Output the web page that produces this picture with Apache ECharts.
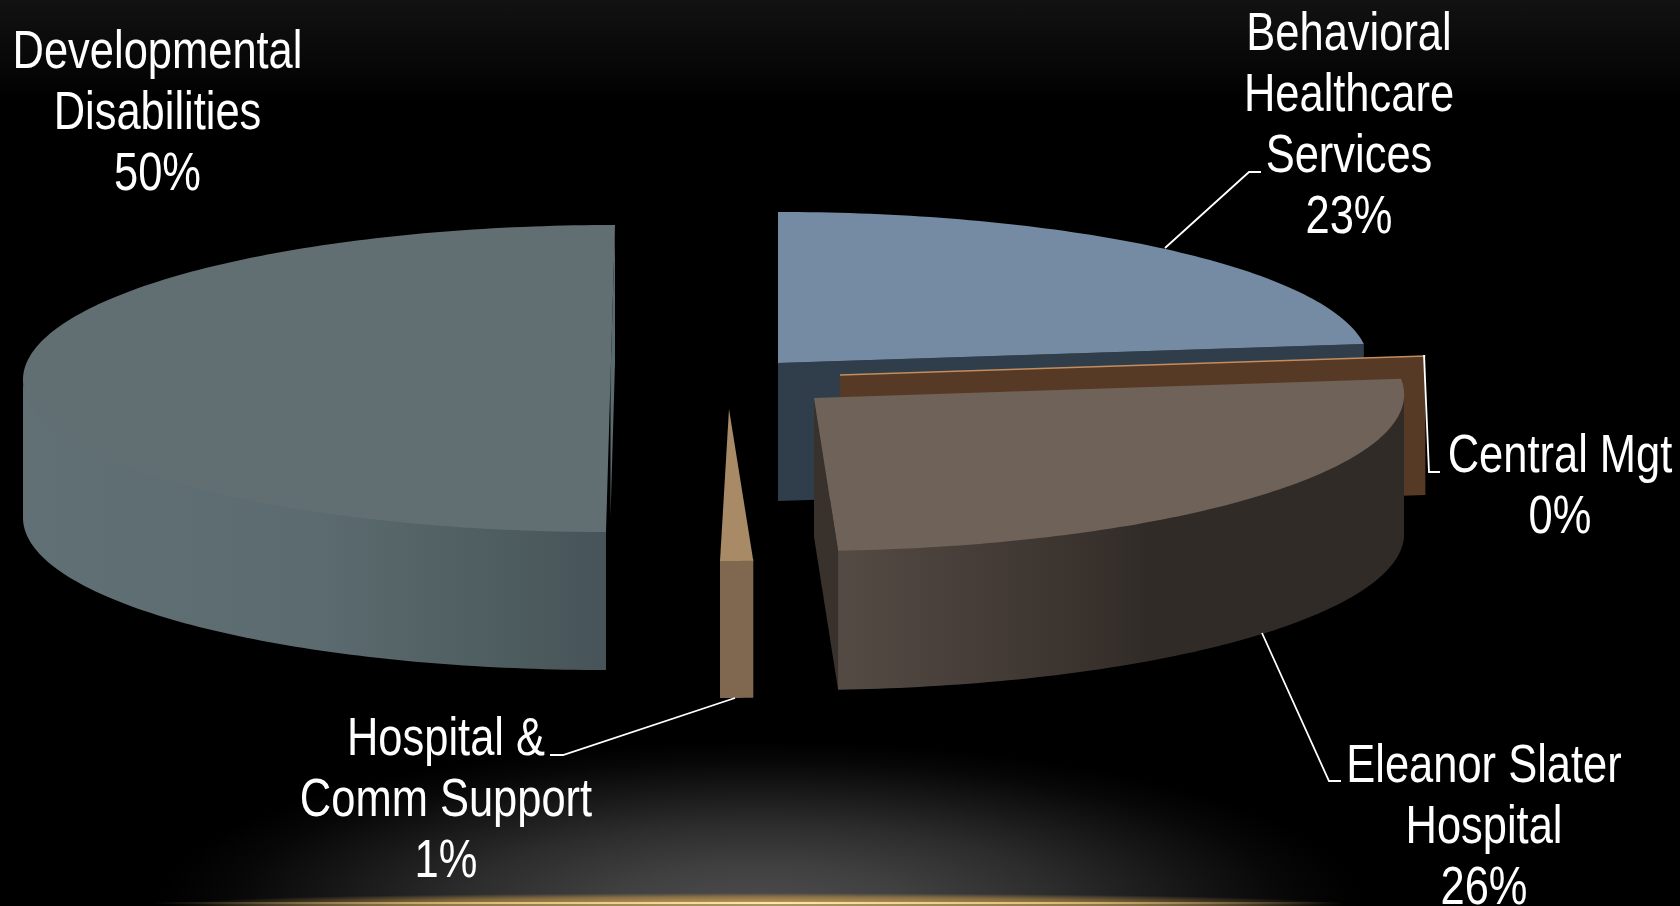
<!DOCTYPE html>
<html>
<head>
<meta charset="utf-8">
<title>Budget share by program</title>
<script src="https://cdn.jsdelivr.net/npm/echarts@6/dist/echarts.min.js"></script>
<style>
  html, body { margin: 0; padding: 0; width: 100%; height: 100%; background: #000; overflow: hidden; }
  #stage {
    position: absolute; left: 0; top: 0; width: 1680px; height: 906px;
    background:
      linear-gradient(90deg, rgba(150,128,78,0) 10%, rgba(150,128,78,.9) 30%, rgba(170,150,100,1) 46%, rgba(150,128,78,.9) 62%, rgba(150,128,78,0) 80%) left 0 bottom 0 / 100% 2px no-repeat,
      linear-gradient(90deg, rgba(232,200,120,0) 9%, rgba(232,200,120,.9) 30%, rgba(250,232,170,1) 46%, rgba(232,200,120,.9) 62%, rgba(232,200,120,0) 80%) left 0 bottom 2px / 100% 2px no-repeat,
      radial-gradient(ellipse 570px 10px at 760px 903px, rgba(215,170,90,.8) 0%, rgba(195,150,75,.55) 60%, rgba(180,140,70,0) 100%),
      radial-gradient(ellipse 600px 165px at 760px 906px, #4c4c4c 0%, #404040 25%, #2c2c2c 50%, #161616 72%, #070707 88%, rgba(0,0,0,0) 100%),
      linear-gradient(180deg, #121212 0, #000 105px);
  }
  #chart { position: absolute; left: 0; top: 0; width: 1680px; height: 906px; }
</style>
</head>
<body>
<div id="stage"><div id="chart"></div></div>
<script>
// Shares of the budget, clockwise from twelve o'clock.
const categories = [
  'Behavioral\nHealthcare\nServices',
  'Central Mgt',
  'Eleanor Slater\nHospital',
  'Hospital &\nComm Support',
  'Developmental\nDisabilities'
];
const shareValues = [23, 0, 26, 1, 50];

// Where each exploded wedge sits and how it is tinted.
const wedgeLayouts = [
  { cx: 778, cy: 363, rx: 590.5, ry: 151, lean: 0, depth: 138, paint: 20,
    top: '#748ba3', cut: '#2f3e4a', wall: null },
  { cx: 840, cy: 375, rx: 590, ry: 151, lean: 0, depth: 139, paint: 30,
    top: '#c48d5e', cut: '#573a25', wall: null },
  { cx: 814, cy: 398, rx: 590, ry: 153, lean: 13, depth: 139, paint: 40,
    top: '#6f6258', cut: '#38312c',
    wall: [[0, '#554b45'], [0.35, '#3f3732'], [0.55, '#312b27'], [1, '#302b27']] },
  { cx: 729, cy: 409, rx: 530, ry: 152, lean: 9, depth: 137, paint: 15,
    top: '#a98a66', cut: null,
    wall: [[0, '#806850'], [1, '#806850']] },
  { cx: 610.5, cy: 378.5, rx: 587.5, ry: 153.5, lean: 4.5, depth: 138, paint: 10,
    top: '#616f73', cut: '#5a6b6f',
    wall: [[0, '#607074'], [0.5, '#5b6b6f'], [0.8, '#4f5e60'], [1, '#465459']] }
];

// Label centres and their leader lines.
const labelLayouts = [
  { x: 1349, y: 127, leader: [[1165, 248], [1249, 172], [1261, 172]] },
  { x: 1560, y: 488, leader: [[1424, 355], [1429, 472], [1440, 472]] },
  { x: 1484, y: 828, leader: [[1262, 633], [1329, 781], [1341, 781]] },
  { x: 446, y: 801, leader: [[735, 698], [563, 755], [550, 755]] },
  { x: 157.5, y: 114, leader: null }
];
const labelWidthScale = 0.82;

const total = shareValues.reduce((a, b) => a + b, 0);
const toAngle = share => (share / total) * 360;

function rimPoint(w, deg, drop) {
  const t = deg * Math.PI / 180;
  return [
    w.cx + w.rx * Math.sin(t) + w.lean * Math.cos(t),
    w.cy - w.ry * Math.cos(t) + drop
  ];
}

function arcPoints(w, from, to, drop) {
  const pts = [];
  const steps = Math.max(1, Math.ceil(Math.abs(to - from)));
  for (let i = 0; i <= steps; i++) {
    pts.push(rimPoint(w, from + (to - from) * i / steps, drop));
  }
  return pts;
}

function renderWedge(params, api) {
  const i = params.dataIndex;
  const w = wedgeLayouts[i];
  const label = labelLayouts[i];
  const value = api.value(0);
  let before = 0;
  for (let k = 0; k < i; k++) before += shareValues[k];
  const start = toAngle(before);
  const end = start + toAngle(value);
  const children = [];

  // Cut face along the radius that looks toward the viewer.
  if (w.cut) {
    const rim = rimPoint(w, end, 0);
    const rimLow = rimPoint(w, end, w.depth);
    children.push({
      type: 'polygon', z2: w.paint,
      shape: { points: [[w.cx, w.cy], rim, rimLow, [w.cx, w.cy + w.depth]] },
      style: { fill: w.cut }
    });
  }

  // Outer rim wall, tucked slightly under the top face so no seam shows.
  const wallFrom = Math.max(start, 90);
  const wallTo = Math.min(end, 270);
  if (w.wall && wallTo > wallFrom) {
    const pts = arcPoints(w, wallFrom, wallTo, -1.5)
      .concat(arcPoints(w, wallTo, wallFrom, w.depth));
    children.push({
      type: 'polygon', z2: w.paint + 1,
      shape: { points: pts },
      style: {
        fill: new echarts.graphic.LinearGradient(0, 0, 1, 0,
          w.wall.map(s => ({ offset: s[0], color: s[1] })))
      }
    });
  }

  // Top face; a zero share collapses to a bright hairline.
  const face = [[w.cx, w.cy]].concat(arcPoints(w, start, end, 0));
  children.push({
    type: 'polygon', z2: w.paint + 2,
    shape: { points: face },
    style: value > 0
      ? { fill: w.top }
      : { fill: w.top, stroke: w.top, lineWidth: 1.6 }
  });

  if (label.leader) {
    children.push({
      type: 'polyline', z2: 90,
      shape: { points: label.leader },
      style: { stroke: '#ffffff', lineWidth: 1.8, fill: null }
    });
  }
  children.push({
    type: 'text', z2: 100,
    x: label.x, y: label.y, scaleX: labelWidthScale,
    style: {
      text: categories[i] + '\n' + value + '%',
      x: 0, y: 0,
      align: 'center', verticalAlign: 'middle',
      fontFamily: '"Liberation Sans", sans-serif',
      fontSize: 53, lineHeight: 61, fill: '#ffffff'
    }
  });

  return { type: 'group', children };
}

const chart = echarts.init(document.getElementById('chart'), null, { renderer: 'canvas' });
chart.setOption({
  backgroundColor: 'transparent',
  animation: false,
  series: [{
    type: 'custom',
    coordinateSystem: 'none',
    silent: true,
    renderItem: renderWedge,
    data: shareValues.map(v => [v])
  }]
});
</script>
</body>
</html>
